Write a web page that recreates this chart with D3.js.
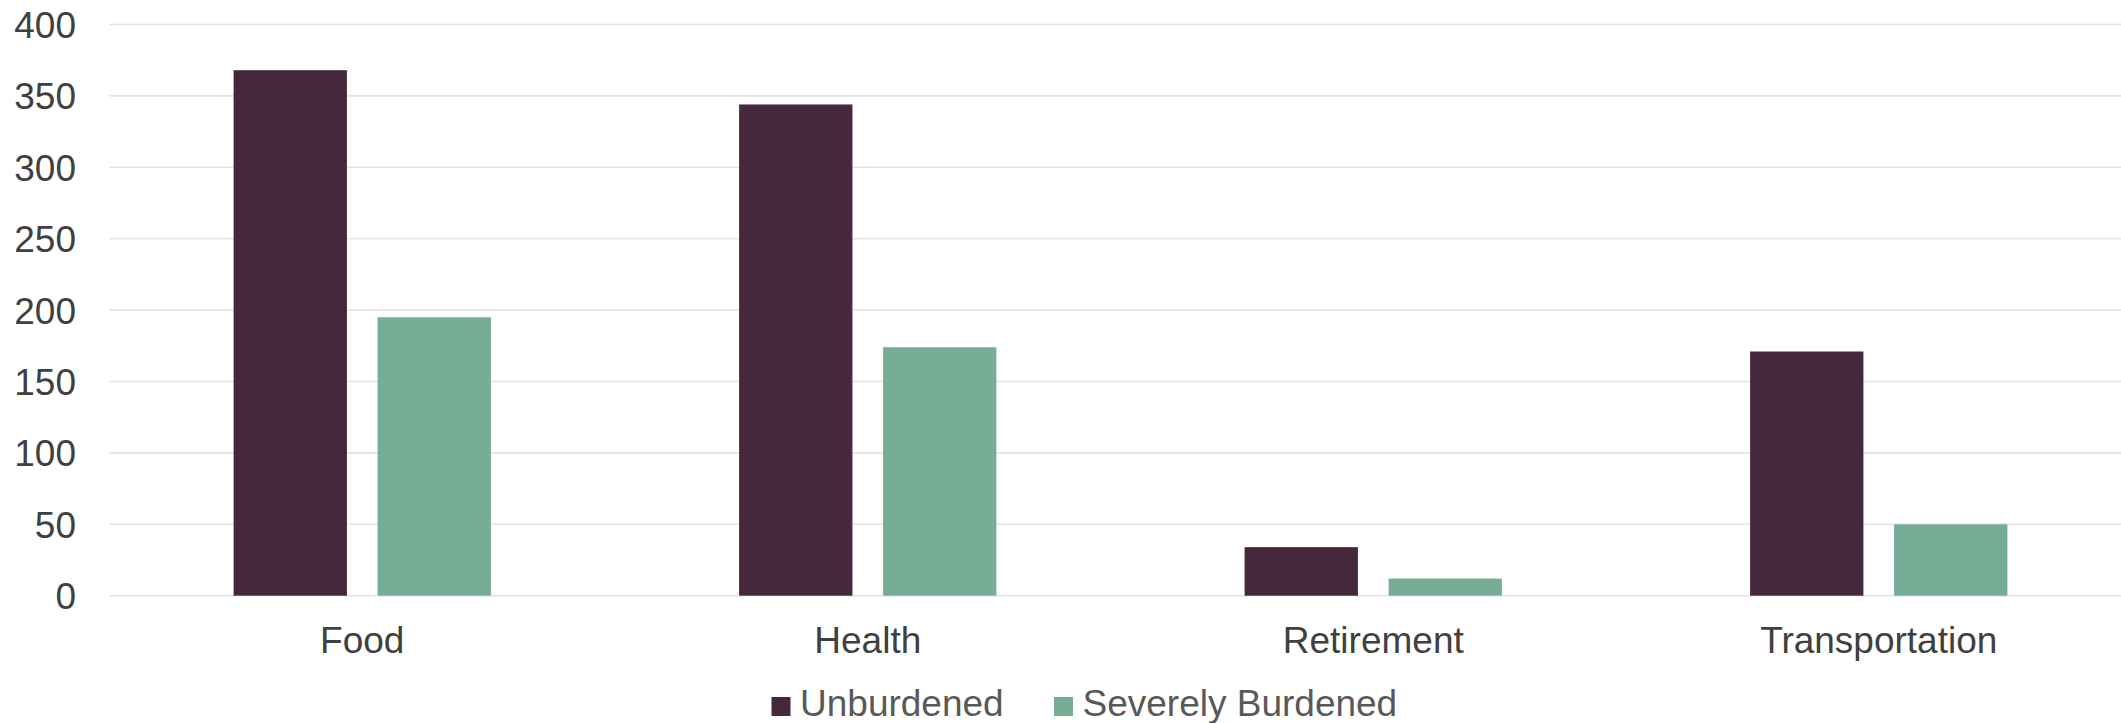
<!DOCTYPE html>
<html>
<head>
<meta charset="utf-8">
<script src="https://cdn.jsdelivr.net/npm/d3@7"></script>
<style>
  html, body { margin: 0; padding: 0; background: #fff; }
  svg { display: block; font-family: "Liberation Sans", Arial, sans-serif; }
</style>
</head>
<body>
<svg id="chart" width="2121" height="723"></svg>
<script>
const categories = ["Food", "Health", "Retirement", "Transportation"];
const seriesNames = ["Unburdened", "Severely Burdened"];
const unburdened = [368, 344, 34, 171];
const severelyBurdened = [195, 174, 12, 50];
const yTicks = [0, 50, 100, 150, 200, 250, 300, 350, 400];
const colors = ["#45283C", "#76AD97"];

const svg = d3.select("#chart");
const W = 2121, H = 723;
const plotLeft = 109.5, plotRight = 2131.5, plotTop = 24.5, plotBottom = 595.7;

const x0 = d3.scaleBand().domain(categories).range([plotLeft, plotRight]).paddingInner(0).paddingOuter(0);
const x1 = d3.scaleBand().domain(seriesNames).range([0, x0.bandwidth()]).paddingInner(0.213).paddingOuter(0.862);
const y = d3.scaleLinear().domain([0, 400]).range([plotBottom, plotTop]);
const color = d3.scaleOrdinal().domain(seriesNames).range(colors);

// gridlines
svg.append("g").selectAll("line").data(yTicks).join("line")
  .attr("x1", plotLeft).attr("x2", W)
  .attr("y1", d => y(d)).attr("y2", d => y(d))
  .attr("stroke", "#e3e3e3").attr("stroke-width", 1.6);

// y axis labels
const yAxis = d3.axisLeft(y).tickValues(yTicks).tickSize(0).tickPadding(0);
const yg = svg.append("g").attr("transform", "translate(76,0)").call(yAxis);
yg.select(".domain").remove();
yg.selectAll("text").attr("font-size", 37).attr("fill", "#404040")
  .attr("font-family", "Liberation Sans, Arial, sans-serif").attr("dy", "0.35em");

// bars
const data = categories.map((c, i) => ({cat: c, values: [
  {s: seriesNames[0], v: unburdened[i]},
  {s: seriesNames[1], v: severelyBurdened[i]}
]}));
const groups = svg.append("g").selectAll("g").data(data).join("g")
  .attr("transform", d => `translate(${x0(d.cat)},0)`);
groups.selectAll("rect").data(d => d.values).join("rect")
  .attr("x", d => x1(d.s))
  .attr("width", x1.bandwidth())
  .attr("y", d => y(d.v))
  .attr("height", d => y(0) - y(d.v))
  .attr("fill", d => color(d.s));

// x axis labels
const xAxis = d3.axisBottom(x0).tickSize(0).tickPadding(0);
const xg = svg.append("g").attr("transform", "translate(0,653)").call(xAxis);
xg.select(".domain").remove();
xg.selectAll("text").attr("font-size", 37).attr("fill", "#404040")
  .attr("font-family", "Liberation Sans, Arial, sans-serif").attr("dy", 0).attr("y", 0);

// legend
const legendItems = [
  {name: seriesNames[0], sx: 771.5, tx: 800},
  {name: seriesNames[1], sx: 1054, tx: 1082.5}
];
const lg = svg.append("g");
lg.selectAll("rect").data(legendItems).join("rect")
  .attr("x", d => d.sx).attr("y", 697).attr("width", 19).attr("height", 19)
  .attr("fill", d => color(d.name));
lg.selectAll("text").data(legendItems).join("text")
  .attr("x", d => d.tx).attr("y", 716)
  .attr("font-size", 37).attr("fill", "#595959")
  .text(d => d.name);
</script>
</body>
</html>
